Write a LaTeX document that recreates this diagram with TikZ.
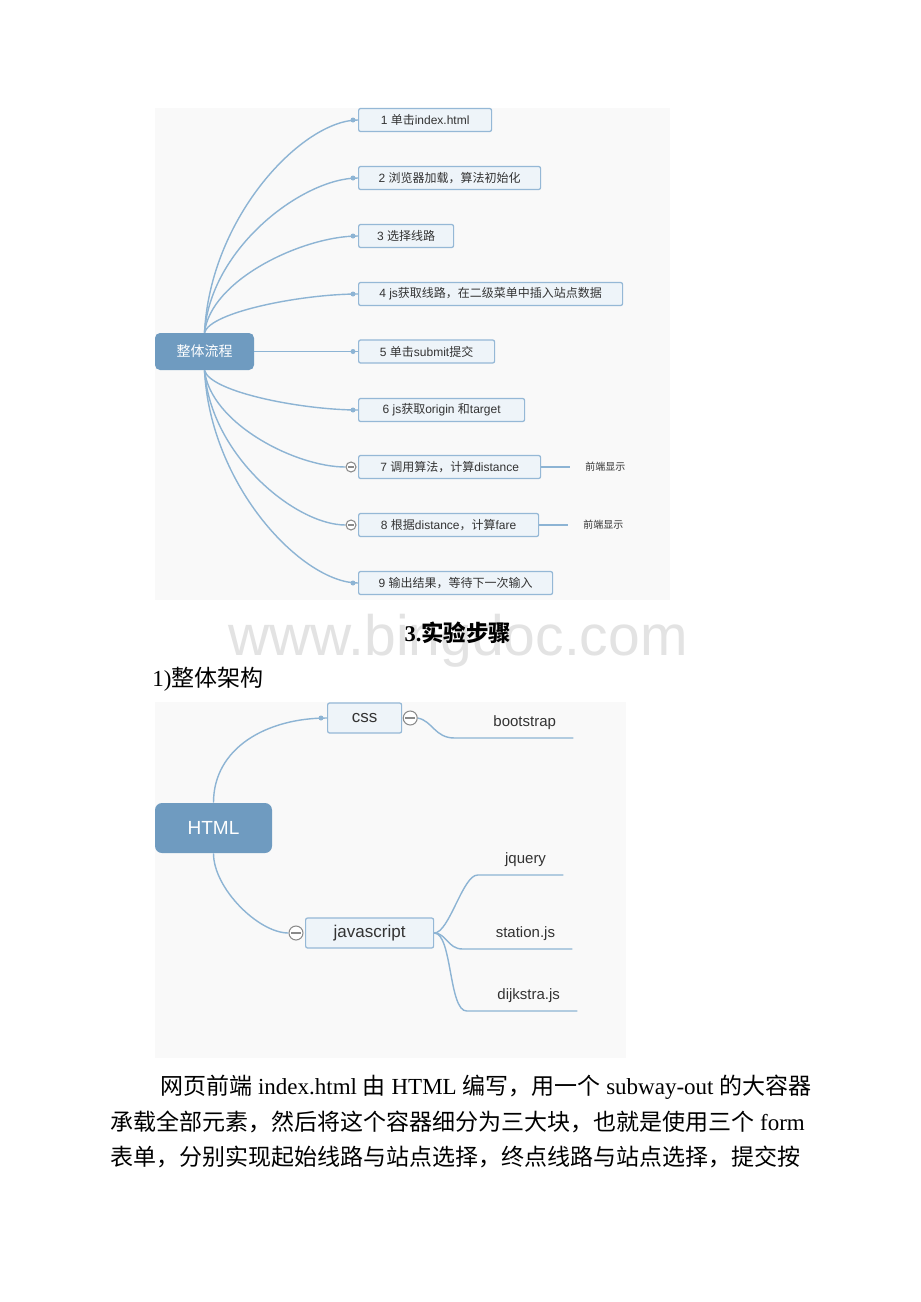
\documentclass[tikz,border=0pt]{standalone}
\usepackage{fontspec}
\usepackage{xcolor}
\usepackage{tikz}
\setmainfont{Liberation Serif}
\setsansfont{Liberation Sans}
\newfontfamily\cjk{Noto Sans CJK SC}
\newcommand{\zh}[1]{{\cjk #1}}
\newdimen\pxu
\pxu=0.02cm
\definecolor{panelbg}{HTML}{F9F9F9}
\definecolor{rootcolor}{HTML}{6F9BC0}
\definecolor{boxfill}{HTML}{EEF4F9}
\definecolor{boxline}{HTML}{95B8D6}
\definecolor{linecolor}{HTML}{8DB4D4}
\definecolor{foldgrey}{HTML}{8A8A8A}
\definecolor{textgrey}{HTML}{333333}
\definecolor{markgrey}{HTML}{E3E3E3}
\tikzset{
  panel/.style={fill=panelbg},
  rootbox/.style={rectangle, rounded corners=5\pxu, fill=rootcolor, text=white, inner sep=0pt},
  stepbox/.style={rectangle, anchor=west, draw=boxline, fill=boxfill, rounded corners=2\pxu, line width=0.7pt, minimum height=23\pxu, inner sep=0pt, text=textgrey, font=\sffamily\fontsize{12\pxu}{14\pxu}\selectfont},
  topicbox/.style={stepbox, minimum height=30\pxu, font=\sffamily\fontsize{17\pxu}{20\pxu}\selectfont},
  enddot/.style={circle, fill=linecolor, inner sep=0pt, minimum size=5\pxu},
  fold/.style={circle, draw=foldgrey, fill=white, inner sep=0pt, minimum size=10\pxu, line width=0.6pt,
    path picture={\draw[foldgrey, line width=0.6pt] ([xshift=2\pxu]path picture bounding box.west) -- ([xshift=-2\pxu]path picture bounding box.east);}},
  branch/.style={draw=linecolor, line width=0.8pt},
  note/.style={anchor=west, inner xsep=15\pxu, inner ysep=0pt, text=textgrey, font=\cjk\fontsize{10\pxu}{12\pxu}\selectfont},
  leaf/.style={anchor=south, align=right, inner xsep=17\pxu, inner ysep=7\pxu, text height=11\pxu, text depth=4\pxu, text=textgrey, font=\sffamily\fontsize{15\pxu}{17\pxu}\selectfont},
  bodyline/.style={anchor=base west, inner sep=0pt, font=\fontsize{23\pxu}{30\pxu}\selectfont},
}

\begin{document}
\begin{tikzpicture}[x=0.02cm, y=-0.02cm]%
\fill[white] (0,0) rectangle (920,1302);%
\useasboundingbox (0,0) rectangle (920,1302);%
% first map: overall flow
\fill[panel] (155,108) rectangle (670,600);%
\node[rootbox, minimum width=99\pxu, minimum height=37\pxu, font=\cjk\fontsize{14\pxu}{16\pxu}\selectfont] (flow) at (204.5,351.5) {整体流程};%
\node[stepbox, minimum width=133\pxu] (s1) at (358,120) {1 \zh{单击}index.html};%
\node[stepbox, minimum width=182\pxu] (s2) at (358,178) {2 \zh{浏览器加载，算法初始化}};%
\node[stepbox, minimum width=95\pxu] (s3) at (358,236) {3 \zh{选择线路}};%
\node[stepbox, minimum width=264\pxu] (s4) at (358,294) {4 js\zh{获取线路，在二级菜单中插入站点数据}};%
\node[stepbox, minimum width=136\pxu] (s5) at (358,351.5) {5 \zh{单击}submit\zh{提交}};%
\node[stepbox, minimum width=166\pxu] (s6) at (358,410) {6 js\zh{获取}origin \zh{和}target};%
\node[stepbox, minimum width=182\pxu] (s7) at (358,467) {7 \zh{调用算法，计算}distance};%
\node[stepbox, minimum width=180\pxu] (s8) at (358,525) {8 \zh{根据}distance\zh{，计算}fare};%
\node[stepbox, minimum width=194\pxu] (s9) at (358,583) {9 \zh{输出结果，等待下一次输入}};%
\node[enddot] (d1) at ([xshift=-5\pxu]s1.west) {};%
\node[enddot] (d2) at ([xshift=-5\pxu]s2.west) {};%
\node[enddot] (d3) at ([xshift=-5\pxu]s3.west) {};%
\node[enddot] (d4) at ([xshift=-5\pxu]s4.west) {};%
\node[enddot] (d5) at ([xshift=-5\pxu]s5.west) {};%
\node[enddot] (d6) at ([xshift=-5\pxu]s6.west) {};%
\node[enddot] (d9) at ([xshift=-5\pxu]s9.west) {};%
\node[fold] (f7) at ([xshift=-7\pxu]s7.west) {};%
\node[fold] (f8) at ([xshift=-7\pxu]s8.west) {};%
\node[note] (n7) at (570,467) {前端显示};%
\node[note] (n8) at (568,525) {前端显示};%
\draw[branch] (flow.north) .. controls +(6,-117) and +(-55,0) .. (s1.west);%
\draw[branch] (flow.north) .. controls +(6,-85) and +(-55,0) .. (s2.west);%
\draw[branch] (flow.north) .. controls +(6,-53) and +(-55,0) .. (s3.west);%
\draw[branch] (flow.north) .. controls +(6,-21) and +(-55,0) .. (s4.west);%
\draw[branch] (flow.east) -- (s5.west);%
\draw[branch] (flow.south) .. controls +(6,22) and +(-55,0) .. (s6.west);%
\draw[branch] (flow.south) .. controls +(6,53) and +(-50,0) .. (f7.west);%
\draw[branch] (flow.south) .. controls +(6,85) and +(-50,0) .. (f8.west);%
\draw[branch] (flow.south) .. controls +(6,117) and +(-55,0) .. (s9.west);%
\draw[branch] (s7.east) -- (n7.west);%
\draw[branch] (s8.east) -- (n8.west);%
% text between the maps
\node[anchor=base west, inner sep=0pt, text=markgrey, font=\sffamily\fontsize{57\pxu}{60\pxu}\selectfont] (mark) at (228,655) {www.bingdoc.com};%
\node[bodyline, anchor=base, font=\bfseries\fontsize{22.5\pxu}{28\pxu}\selectfont] (heading) at (458,641) {3.\zh{实验步骤}};%
\node[bodyline] (sub) at (152,686) {1)\zh{整体架构}};%
% second map: structure
\fill[panel] (155,702) rectangle (626,1058);%
\node[rootbox, minimum width=117\pxu, minimum height=50\pxu, rounded corners=7\pxu, font=\sffamily\fontsize{19\pxu}{22\pxu}\selectfont] (html) at (213.5,828) {HTML};%
\node[topicbox, minimum width=74\pxu] (css) at (327,718) {css};%
\node[enddot] (dcss) at ([xshift=-6\pxu]css.west) {};%
\node[fold, minimum size=14\pxu] (fcss) at ([xshift=8\pxu]css.east) {};%
\node[topicbox, minimum width=128\pxu] (js) at (305,933) {javascript};%
\node[fold, minimum size=14\pxu] (fjs) at ([xshift=-9\pxu]js.west) {};%
\node[leaf, text width=84\pxu] (boot) at (514,738) {bootstrap};%
\node[leaf, text width=51\pxu] (jq) at (520.5,875) {jquery};%
\node[leaf, text width=75\pxu] (st) at (517.5,949) {station.js};%
\node[leaf, text width=76\pxu] (dij) at (522,1011) {dijkstra.js};%
\draw[branch] (html.north) .. controls +(0,-55) and +(-60,0) .. (css.west);%
\draw[branch] (html.south) .. controls +(0,35) and +(-30,0) .. (fjs.west);%
\draw[branch] (fcss.east) .. controls +(15,3) and +(-20,0) .. (boot.south west) -- (boot.south east);%
\draw[branch] (js.east) .. controls +(15,0) and +(-15,0) .. (jq.south west) -- (jq.south east);%
\draw[branch] (js.east) .. controls +(12,0) and +(-15,0) .. (st.south west) -- (st.south east);%
\draw[branch] (js.east) .. controls +(18,0) and +(-18,0) .. (dij.south west) -- (dij.south east);%
% paragraph
\node[bodyline] (para1) at (160,1094) {\zh{网页前端} index.html \zh{由} HTML \zh{编写，用一个} subway-out \zh{的大容器}};%
\node[bodyline] (para2) at (110,1130) {\zh{承载全部元素，然后将这个容器细分为三大块，也就是使用三个} form};%
\node[bodyline] (para3) at (110,1165) {\zh{表单，分别实现起始线路与站点选择，终点线路与站点选择，提交按}};%
\end{tikzpicture}
\end{document}
